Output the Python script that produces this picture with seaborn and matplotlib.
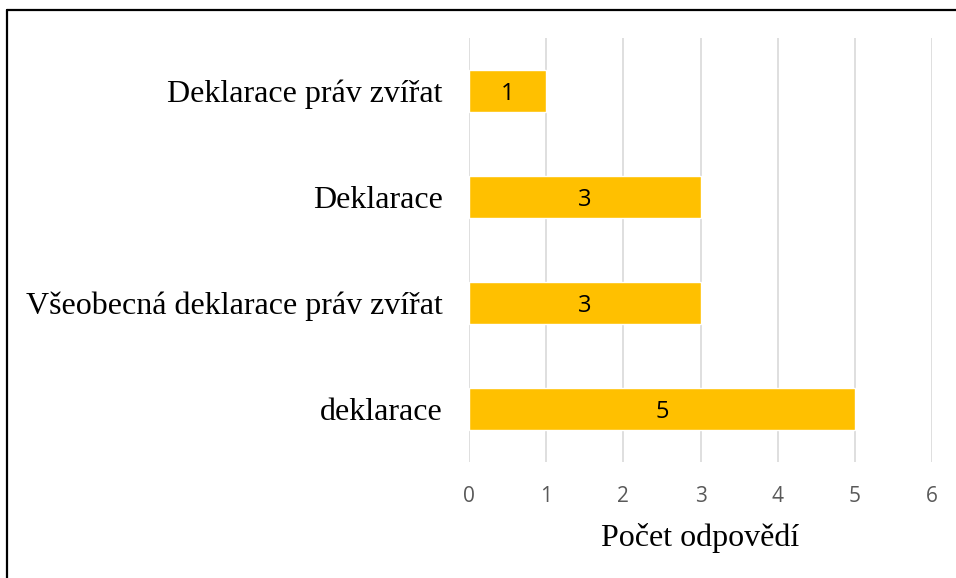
import matplotlib.pyplot as plt
import pandas as pd
import seaborn as sns
from matplotlib.lines import Line2D

# donnees
categories = [
    "Deklarace práv zvířat",
    "Deklarace",
    "Všeobecná deklarace práv zvířat",
    "deklarace",
]
counts = [1, 3, 3, 5]
x_ticks = [0, 1, 2, 3, 4, 5, 6]

df = pd.DataFrame({"kategorie": categories, "pocet": counts})

sns.set_style("white")
plt.rcParams["font.family"] = ["Liberation Serif", "DejaVu Serif"]

fig = plt.figure(figsize=(9.56, 5.78), dpi=100)
ax = fig.add_axes([0.4906, 0.2007, 0.4843, 0.7336])

sns.barplot(data=df, x="pocet", y="kategorie", color="#FFC000",
            saturation=1, width=0.4, ax=ax)

for patch, value in zip(ax.patches, counts):
    ax.text(patch.get_x() + patch.get_width() / 2,
            patch.get_y() + patch.get_height() / 2,
            str(value), ha="center", va="center_baseline", fontsize=17,
            family=["Open Sans", "DejaVu Sans"], color="black")

ax.set_xlim(0, 6)
ax.set_xticks(x_ticks)
ax.set_xticklabels([str(t) for t in x_ticks],
                   family=["Open Sans", "DejaVu Sans"], fontsize=15, color="#595959")
ax.tick_params(axis="x", length=0, pad=17)
ax.tick_params(axis="y", length=0, pad=19, labelsize=23, labelcolor="black")
ax.xaxis.grid(True, color="#D9D9D9", linewidth=1.2)
ax.set_axisbelow(True)
for side in ax.spines.values():
    side.set_visible(False)
ax.set_ylabel("")
ax.set_xlabel("Počet odpovědí", fontsize=23, labelpad=12, color="black")

# cadre noir en haut et a gauche
fig.add_artist(Line2D([0.0073, 1.0], [0.983, 0.983], color="black", linewidth=1.6))
fig.add_artist(Line2D([0.0073, 0.0073], [0.0, 0.983], color="black", linewidth=1.6))

fig.savefig("out.png", dpi=100)
